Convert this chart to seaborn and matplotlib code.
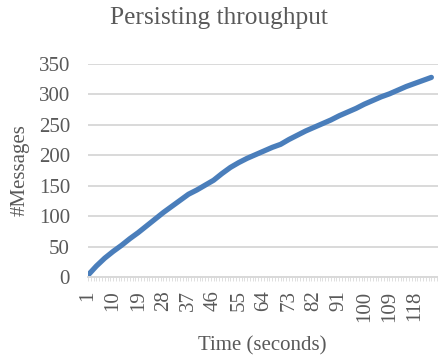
import matplotlib
matplotlib.use("Agg")
import matplotlib.pyplot as plt
import seaborn as sns
import pandas as pd

# Cumulative number of persisted messages, sampled every 3 seconds
seconds = [1, 4, 7, 10, 13, 16, 19, 22, 25, 28, 31, 34, 37, 40, 43, 46, 49, 52,
           55, 58, 61, 64, 67, 70, 73, 76, 79, 82, 85, 88, 91, 94, 97, 100, 103,
           106, 109, 112, 115, 118, 121, 124]
messages = [3, 18, 31, 42, 52, 63, 73, 84, 95, 106, 116, 126, 136, 143, 151, 159,
            170, 180, 188, 195, 201, 207, 213, 218, 226, 233, 240, 246, 252, 258,
            265, 271, 277, 284, 290, 296, 301, 307, 313, 318, 323, 328]

tick_seconds = [1, 10, 19, 28, 37, 46, 55, 64, 73, 82, 91, 100, 109, 118]
y_ticks = [0, 50, 100, 150, 200, 250, 300, 350]

df = pd.DataFrame({"Time (seconds)": seconds, "#Messages": messages})

sns.set_theme(style="white")
plt.rcParams["font.family"] = ["Liberation Serif", "DejaVu Serif"]
text_color = "#595959"
grid_color = "#D9D9D9"

fig = plt.figure(figsize=(4.38, 3.6), dpi=100)
ax = fig.add_axes([88 / 438, 1 - 277 / 360, 349.5 / 438, 213 / 360])

sns.lineplot(data=df, x="Time (seconds)", y="#Messages", ax=ax,
             color="#4A7EBB", linewidth=3.8, solid_capstyle="round")

ax.set_xlim(1, 126.2)
ax.set_ylim(0, 350)
ax.set_yticks(y_ticks)
ax.set_xticks(tick_seconds)
ax.set_xticks(range(1, 127), minor=True)

ax.grid(axis="y", color=grid_color, linewidth=1.4)
ax.set_axisbelow(True)
for side in ("top", "right", "left"):
    ax.spines[side].set_visible(False)
ax.spines["bottom"].set_color(grid_color)
ax.spines["bottom"].set_linewidth(1.4)

ax.tick_params(axis="y", length=0, pad=13, labelsize=15, labelcolor=text_color)
ax.tick_params(axis="x", which="both", direction="out", length=3.2, width=0.6,
               color=grid_color, pad=6.5, labelsize=15, labelcolor=text_color,
               bottom=True)
for lab in ax.get_xticklabels():
    lab.set_rotation(90)
    lab.set_va("top")
    lab.set_ha("center")

ax.set_xlabel("Time (seconds)", fontsize=15, color=text_color)
ax.set_ylabel("#Messages", fontsize=15, color=text_color)
ax.xaxis.label.set_va("center")
ax.yaxis.label.set_va("center")
ax.xaxis.set_label_coords(0.5, -0.325)
ax.yaxis.set_label_coords(-0.195, 0.5)

fig.text(0.5, 1 - 18 / 360, "Persisting throughput", ha="center", va="center",
         fontsize=18.3, color=text_color)

fig.savefig("out.png", dpi=100)
